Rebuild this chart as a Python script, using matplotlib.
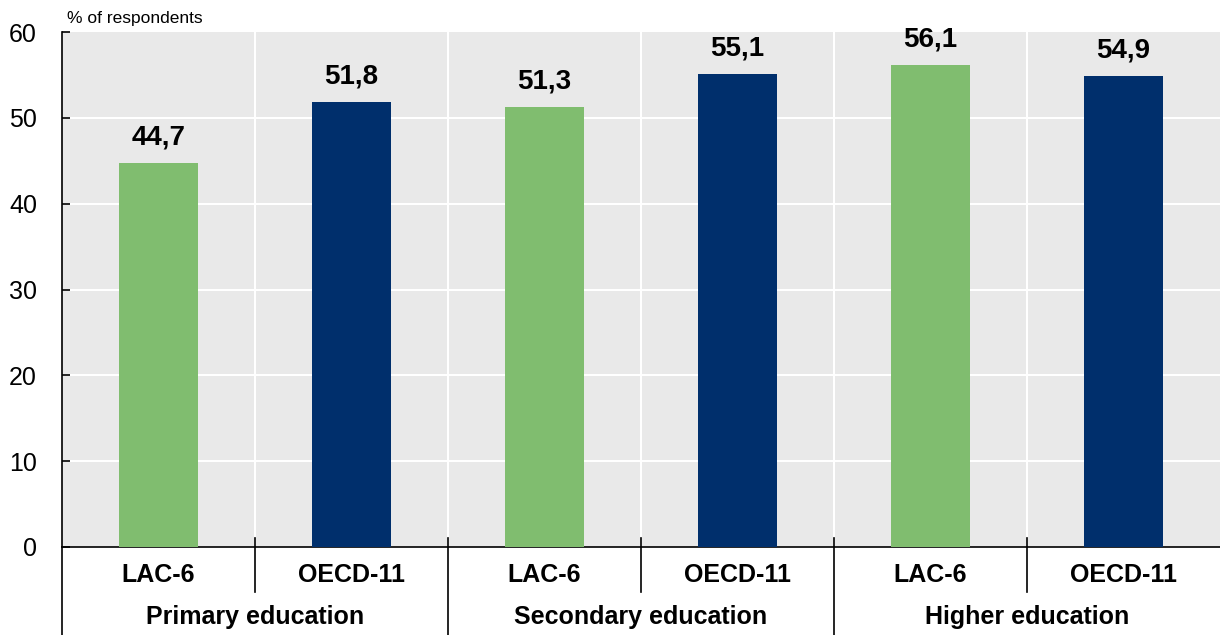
import matplotlib.pyplot as plt
from matplotlib import font_manager
import matplotlib.transforms as mtransforms

groups = ['Primary education', 'Secondary education', 'Higher education']
series = ['LAC-6', 'OECD-11']
values = [44.7, 51.8, 51.3, 55.1, 56.1, 54.9]
yticks = [0, 10, 20, 30, 40, 50, 60]

green = '#80bd6f'
navy = '#002f6c'
bg = '#e9e9e9'

names = {f.name for f in font_manager.fontManager.ttflist}
narrow = 'Liberation Sans Narrow' if 'Liberation Sans Narrow' in names else 'Liberation Sans'
plt.rcParams['font.family'] = ['Liberation Sans', 'DejaVu Sans']

fig = plt.figure(figsize=(12.2, 6.35), dpi=100)
ax = fig.add_axes([62 / 1220, 1 - 547 / 635, 1158 / 1220, 515 / 635])
ax.set_facecolor(bg)

x = list(range(len(values)))
colors = [green if i % 2 == 0 else navy for i in x]
ax.bar(x, values, width=0.41, color=colors, zorder=3)

for xi, v in zip(x, values):
    ax.annotate(f'{v:.1f}'.replace('.', ','), (xi, v), xytext=(0, 9),
                textcoords='offset points', ha='center', va='bottom',
                fontsize=20, fontweight='bold', family=narrow)

ax.set_xlim(-0.5, len(values) - 0.5)
ax.set_ylim(0, 60)
ax.set_yticks(yticks)
ax.set_yticklabels([str(t) for t in yticks], fontsize=18)
for yv in yticks[1:-1]:
    ax.axhline(yv, color='white', lw=1.5, zorder=1)
for b in range(1, len(values)):
    ax.axvline(b - 0.5, color='white', lw=1.5, zorder=1)

ax.tick_params(axis='y', direction='in', length=6, width=1.2, pad=18)
ax.tick_params(axis='x', length=0, labelbottom=False)
for s in ['top', 'right']:
    ax.spines[s].set_visible(False)
ax.spines['left'].set_linewidth(1.2)
ax.spines['bottom'].set_linewidth(1.2)

trans = mtransforms.blended_transform_factory(ax.transData, ax.transAxes)
ax.plot([-0.5, -0.5], [0, -0.171], transform=trans, color='black', lw=1.2, clip_on=False)
for b in range(1, len(values)):
    bottom = -0.171 if b % 2 == 0 else -0.0874
    ax.plot([b - 0.5, b - 0.5], [0.0175, bottom], transform=trans,
            color='black', lw=1.2, clip_on=False, zorder=4)

for xi in x:
    ax.text(xi, -0.054, series[xi % 2], transform=trans, ha='center', va='center',
            fontsize=18, fontweight='bold', family=narrow)
for gi, g in enumerate(groups):
    ax.text(gi * 2 + 0.5, -0.136, g, transform=trans, ha='center', va='center',
            fontsize=18, fontweight='bold', family=narrow)

fig.text(67 / 1220, 1 - 18 / 635, '% of respondents', fontsize=12.5, ha='left', va='center')

fig.savefig('out.png', dpi=100)
